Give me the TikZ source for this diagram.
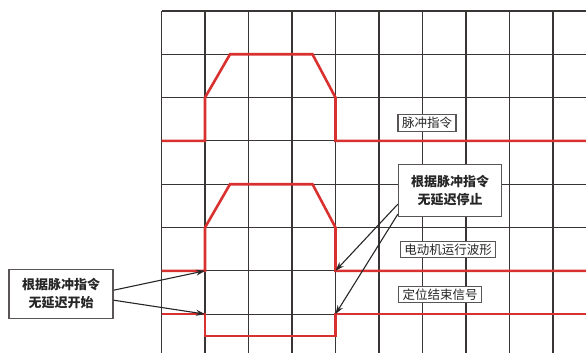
\documentclass[tikz,border=0pt]{standalone}
\usepackage{fontspec}
\newfontfamily\cjk{Noto Sans CJK SC}
\usetikzlibrary{calc,arrows.meta}
\definecolor{wave}{HTML}{D8312F}
\definecolor{gridc}{HTML}{3A3535}
\definecolor{boxc}{HTML}{5A5555}
\tikzset{
  gridline/.style={draw=gridc,line width=1.1pt},
  waveline/.style={draw=wave,line width=2.6pt,line join=miter},
  tag/.style={draw=boxc,line width=1.1pt,fill=white,font=\cjk\fontsize{12.5}{14}\selectfont,text=black!85,inner xsep=4pt,inner ysep=2.5pt},
  note/.style={draw=boxc,line width=1.3pt,fill=white,font=\cjk\bfseries\fontsize{13}{18}\selectfont,text=black!85,align=center,inner sep=0pt},
  pointer/.style={draw=black!85,line width=1.1pt,-{Stealth[length=9pt,width=6pt]}}
}
\begin{document}
\begin{tikzpicture}[x=1pt,y=-1pt]
\useasboundingbox (0,0) rectangle (586,353);
% grid
\foreach \k in {0,...,9}{
  \draw[gridline] ({161.5+43.5*\k},11) -- ({161.5+43.5*\k},353);
}
\foreach \k in {0,...,7}{
  \draw[gridline] (161.5,{11+43.3*\k}) -- (586,{11+43.3*\k});
}
% key coordinates
\coordinate (xa) at (161.5,0);
\coordinate (xb) at (205,0);
\coordinate (xe) at (335.5,0);
\coordinate (m1) at (205,270.8);
\coordinate (s1) at (205,314.1);
\coordinate (m2) at (335.5,270.8);
\coordinate (s2) at (335.5,314.1);
% pulse command
\draw[waveline] (161.5,140.9) -- (205,140.9) -- (205,97.6) -- (230,54.3) -- (312.5,54.3) -- (335.5,97.6) -- (335.5,140.9) -- (586,140.9);
% motor waveform
\draw[waveline] (161.5,270.8) -- (m1) -- (205,227.5) -- (230,184.2) -- (312.5,184.2) -- (335.5,227.5) -- (m2) -- (586,270.8);
% positioning done
\draw[waveline] (161.5,314.1) -- (s1) -- (205,336) -- (335.5,336) -- (s2) -- (586,314.1);
% labels
\node[tag] (pulse) at (427,123) {脉冲指令};
\node[tag] (motor) at (448,249.5) {电动机运行波形};
\node[tag] (done) at (440,294.5) {定位结束信号};
\node[note,minimum width=103pt,minimum height=52pt] (stop) at (450,190.5) {根据脉冲指令\\无延迟停止};
\node[note,minimum width=104pt,minimum height=49pt] (start) at (61,293.7) {根据脉冲指令\\无延迟开始};
% pointers
\draw[pointer] ($(start.east)+(0,-3.5)$) -- (m1);
\draw[pointer] ($(start.east)+(0,6.5)$) -- (s1);
\draw[pointer] ($(stop.south west)+(0,-13)$) -- (m2);
\draw[pointer] ($(stop.south west)+(0,-3)$) -- (s2);
\end{tikzpicture}
\end{document}
